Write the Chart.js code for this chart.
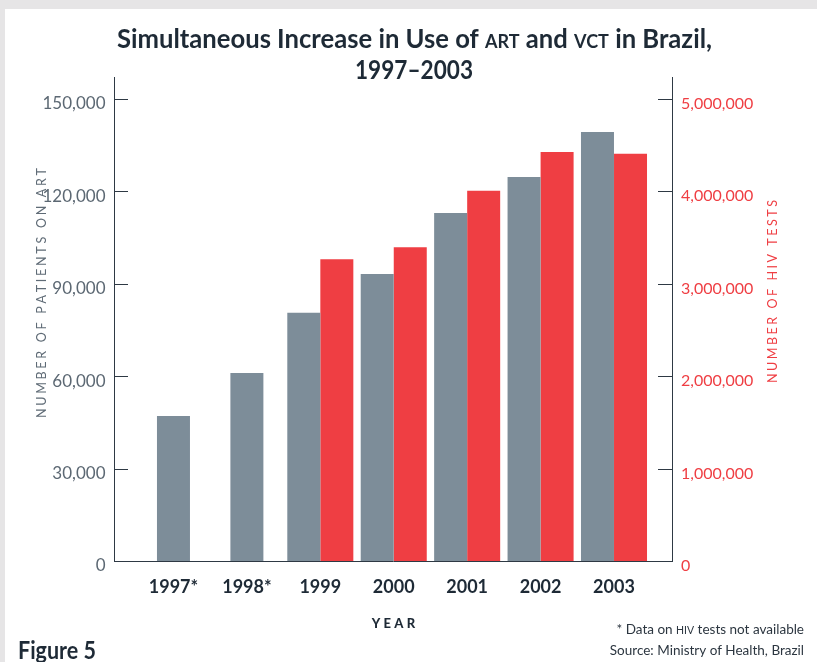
<!DOCTYPE html>
<html>
<head>
<meta charset="utf-8">
<script src="https://cdn.jsdelivr.net/npm/chart.js@4.4.1/dist/chart.umd.min.js"></script>
<style>
html,body{margin:0;padding:0;background:#fff;}
canvas{display:block;}
</style>
</head>
<body>
<canvas id="c" width="817" height="662"></canvas>
<script>
// ---- data ----
const years = ['1997*', '1998*', '1999', '2000', '2001', '2002', '2003'];
const artPatients = [47200, 61200, 80700, 93300, 113100, 124800, 139400];
const hivTests = [null, null, 3270000, 3400000, 4010000, 4430000, 4410000];
const leftTicks = [0, 30000, 60000, 90000, 120000, 150000];
const rightTicks = [0, 1000000, 2000000, 3000000, 4000000, 5000000];

const GRAY = '#7d8d99';
const RED = '#ef3e43';
const AXIS = '#2e3944';
const DARK = '#1e2a36';
const TICKGRAY = '#5c6873';

function spaced(ctx, str, x, y, spacing, align) {
  const chars = [...str];
  const ws = chars.map(c => ctx.measureText(c).width);
  const total = ws.reduce((a, b) => a + b, 0) + spacing * (chars.length - 1);
  let cx = align === 'center' ? x - total / 2 : (align === 'right' ? x - total : x);
  ctx.textAlign = 'left';
  chars.forEach((c, i) => { ctx.fillText(c, cx, y); cx += ws[i] + spacing; });
}
function spacedFit(ctx, str, cx, y, target) {
  const chars = [...str];
  const ws = chars.map(c => ctx.measureText(c).width);
  const sum = ws.reduce((a, b) => a + b, 0);
  const sp = (target - sum) / (chars.length - 1);
  spaced(ctx, str, cx, y, sp, 'center');
}
function rich(ctx, segs, x, y, align, targetW) {
  const widths = segs.map(s => { ctx.font = s.font; return ctx.measureText(s.text).width; });
  const natural = widths.reduce((a, b) => a + b, 0);
  const sx = targetW ? targetW / natural : 1;
  ctx.save();
  ctx.translate(x, y);
  ctx.scale(sx, 1);
  let cx = align === 'center' ? -natural / 2 : (align === 'right' ? -natural : 0);
  ctx.textAlign = 'left';
  ctx.textBaseline = 'alphabetic';
  segs.forEach((s, i) => { ctx.font = s.font; ctx.fillText(s.text, cx, 0); cx += widths[i]; });
  ctx.restore();
  return sx;
}

const decor = {
  id: 'decor',
  beforeDraw(chart) {
    const ctx = chart.ctx;
    ctx.save();
    ctx.fillStyle = '#ffffff';
    ctx.fillRect(0, 0, chart.width, chart.height);
    ctx.fillStyle = '#e6e5e6';
    ctx.fillRect(0, 0, chart.width, 9);
    ctx.fillRect(0, 0, 5, chart.height);
    ctx.restore();
  },
  afterDraw(chart) {
    const ctx = chart.ctx;
    ctx.save();
    ctx.fillStyle = DARK;
    // title
    const big = '700 27px Lato', small = '700 19px Lato';
    rich(ctx, [
      {text: 'Simultaneous Increase in Use of ', font: big},
      {text: 'ART', font: small},
      {text: ' and ', font: big},
      {text: 'VCT', font: small},
      {text: ' in Brazil,', font: big}
    ], 414.5, 48, 'center', 595);
    rich(ctx, [{text: '1997\u20132003', font: big}], 414, 79, 'center', 118);

    // x axis title
    ctx.font = '900 13px Lato';
    ctx.textBaseline = 'alphabetic';
    spaced(ctx, 'YEAR', 393.5, 628, 3.3, 'center');

    // left axis title
    ctx.save();
    ctx.fillStyle = '#5f6b76';
    ctx.font = '400 12.5px Lato';
    ctx.translate(45.5, 293);
    ctx.rotate(-Math.PI / 2);
    ctx.textBaseline = 'alphabetic';
    spacedFit(ctx, 'NUMBER OF PATIENTS ON ART', 0, 0, 250);
    ctx.restore();

    // right axis title
    ctx.save();
    ctx.fillStyle = RED;
    ctx.font = '400 12.5px Lato';
    ctx.translate(777, 291.5);
    ctx.rotate(-Math.PI / 2);
    ctx.textBaseline = 'alphabetic';
    spacedFit(ctx, 'NUMBER OF HIV TESTS', 0, 0, 183);
    ctx.restore();

    // footnotes
    ctx.fillStyle = '#2c3640';
    rich(ctx, [
      {text: '* Data on ', font: '400 13.5px Lato'},
      {text: 'HIV', font: '400 10.5px Lato'},
      {text: ' tests not available', font: '400 13.5px Lato'}
    ], 804, 634, 'right');
    rich(ctx, [{text: 'Source: Ministry of Health, Brazil', font: '400 13.5px Lato'}], 804, 655, 'right');

    // figure label
    ctx.fillStyle = DARK;
    rich(ctx, [{text: 'Figure 5', font: '700 24px Lato'}], 18, 659, 'left', 78);
    ctx.restore();
  }
};

new Chart(document.getElementById('c'), {
  type: 'bar',
  data: {
    datasets: [
      {
        label: 'Number of patients on ART',
        data: years.map((_, i) => ({x: i, y: artPatients[i]})),
        backgroundColor: GRAY,
        xAxisID: 'x', yAxisID: 'yL'
      },
      {
        label: 'Number of HIV tests',
        data: years.map((_, i) => ({x: i, y: hivTests[i]})),
        backgroundColor: RED,
        xAxisID: 'x', yAxisID: 'yR'
      }
    ]
  },
  options: {
    responsive: false,
    animation: false,
    devicePixelRatio: 1,
    layout: {padding: {top: 77, left: 0, right: 0, bottom: 0}},
    datasets: {bar: {skipNull: true, categoryPercentage: 0.9, barPercentage: 1.0, maxBarThickness: 33, borderWidth: 0}},
    plugins: {legend: {display: false}, tooltip: {enabled: false}, title: {display: false}},
    scales: {
      x: {
        type: 'linear', position: 'bottom', min: -0.81, max: 6.79, bounds: 'data',
        offset: false,
        afterBuildTicks: s => { s.ticks = years.map((_, i) => ({value: i})); },
        afterFit: s => { s.height = 100.5; },
        grid: {display: true, drawOnChartArea: false, drawTicks: false, offset: false},
        border: {display: true, color: AXIS, width: 1},
        ticks: {
          callback: (v, i) => years[i],
          font: {family: 'Lato', weight: '700', size: 18},
          color: DARK, padding: 15, maxRotation: 0, autoSkip: false
        }
      },
      yL: {
        type: 'linear', position: 'left', min: 0, max: 157240,
        afterBuildTicks: s => { s.ticks = leftTicks.map(v => ({value: v})); },
        afterFit: s => { s.width = 114; },
        grid: {display: true, drawOnChartArea: false, drawTicks: true, tickLength: -14, color: AXIS, lineWidth: 1},
        border: {display: true, color: AXIS, width: 1},
        ticks: {
          callback: v => v.toLocaleString('en-US'),
          font: {family: 'Lato', size: 17},
          color: TICKGRAY, padding: 22.5, labelOffset: 4.5
        }
      },
      yR: {
        type: 'linear', position: 'right', min: 0, max: 5241300,
        afterBuildTicks: s => { s.ticks = rightTicks.map(v => ({value: v})); },
        afterFit: s => { s.width = 145; },
        grid: {display: true, drawOnChartArea: false, drawTicks: true, tickLength: -14, color: AXIS, lineWidth: 1},
        border: {display: true, color: AXIS, width: 1},
        ticks: {
          callback: v => v.toLocaleString('en-US'),
          font: {family: 'Lato', size: 16},
          color: RED, padding: 23, labelOffset: 4.5
        }
      }
    }
  },
  plugins: [decor]
});
</script>
</body>
</html>
